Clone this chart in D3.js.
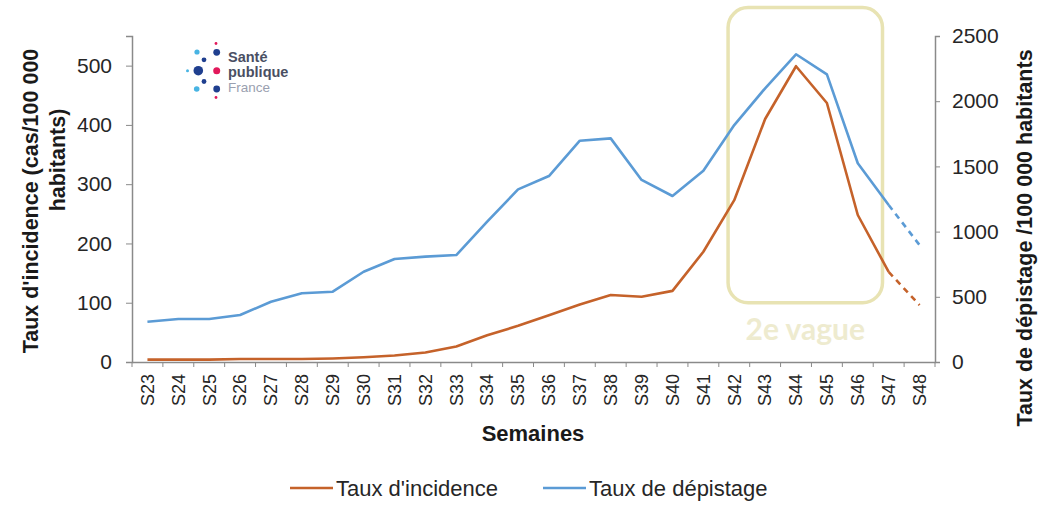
<!DOCTYPE html>
<html>
<head>
<meta charset="utf-8">
<script src="https://cdn.jsdelivr.net/npm/d3@7"></script>
<style>
  body { margin: 0; background: #fff; }
  svg text { font-family: "Liberation Sans", Arial, sans-serif; }
</style>
</head>
<body>
<div id="chart"></div>
<script>
// semaines et valeurs
var semaines = ["S23","S24","S25","S26","S27","S28","S29","S30","S31","S32","S33","S34","S35",
    "S36","S37","S38","S39","S40","S41","S42","S43","S44","S45","S46","S47","S48"];
var incidence = [4, 4, 4, 5, 5, 5, 6, 8, 11, 16, 26, 45, 61, 79, 97, 113, 110, 120, 186, 273, 410, 499, 437, 248, 152, 96];
var depistage = [309, 330, 330, 360, 462, 527, 539, 692, 790, 808, 820, 1076, 1324, 1426, 1697, 1715, 1396, 1273, 1467, 1817, 2099, 2360, 2206, 1524, 1204, 897];
var derniereSemaineConsolidee = "S47"; // après : données provisoires (pointillés)
var ticksGauche = [0, 100, 200, 300, 400, 500];
var ticksDroite = [0, 500, 1000, 1500, 2000, 2500];
var vague = { debut: "S42", fin: "S46", label: "2e vague" };

var width = 1055;
var height = 505;
var margin = {top: 36, right: 120, bottom: 143, left: 132};
var w = width - margin.left - margin.right;
var h = height - margin.top - margin.bottom;

var colIncidence = "#c5622a";
var colDepistage = "#5b9bd5";
var gris = "#8a8a8a";

var svg = d3.select("#chart").append("svg")
    .attr("width", width)
    .attr("height", height);

var g = svg.append("g")
    .attr("transform", "translate(" + margin.left + "," + margin.top + ")");

var x = d3.scaleBand()
    .domain(semaines)
    .range([0, w]);

var yG = d3.scaleLinear().domain([0, 550]).range([h, 0]);
var yD = d3.scaleLinear().domain([0, 2500]).range([h, 0]);

function cx(s) { return x(s) + x.bandwidth() / 2; }

// cadre "2e vague"
var bx0 = x(vague.debut) + x.bandwidth() * 0.3;
var bx1 = x(vague.fin) + x.bandwidth() * 1.3;
g.append("rect")
    .attr("x", bx0)
    .attr("y", yG(598))
    .attr("width", bx1 - bx0)
    .attr("height", yG(100) - yG(598))
    .attr("rx", 20)
    .attr("fill", "none")
    .attr("stroke", "#e8e3b3")
    .attr("stroke-width", 3.5);

g.append("text")
    .attr("x", (bx0 + bx1) / 2)
    .attr("y", yG(100) + 37)
    .attr("text-anchor", "middle")
    .style("font-family", "Lato, 'Open Sans', sans-serif")
    .attr("font-weight", "bold")
    .attr("font-size", "30px")
    .attr("fill", "#eeebcf")
    .text(vague.label);

// axes
var axeX = g.append("g")
    .attr("transform", "translate(0," + h + ")")
    .call(d3.axisBottom(x).tickSize(0).tickPadding(10));
axeX.select(".domain").attr("stroke", gris).attr("stroke-width", 1.5);
axeX.selectAll("text")
    .attr("transform", "rotate(-90)")
    .attr("text-anchor", "end")
    .attr("dy", "0.35em")
    .attr("x", -12)
    .attr("y", 0)
    .attr("font-size", "18px")
    .attr("fill", "#262626");
// graduations entre les semaines
axeX.selectAll(".sep")
    .data(d3.range(semaines.length + 1))
    .enter().append("line")
    .attr("class", "sep")
    .attr("x1", function(i) { return i * x.step(); })
    .attr("x2", function(i) { return i * x.step(); })
    .attr("y1", 0)
    .attr("y2", 5)
    .attr("stroke", gris);

var axeG = g.append("g")
    .call(d3.axisLeft(yG).tickValues(ticksGauche).tickSize(6).tickPadding(14).tickFormat(d3.format("d")));
var axeD = g.append("g")
    .attr("transform", "translate(" + w + ",0)")
    .call(d3.axisRight(yD).tickValues(ticksDroite).tickSize(5).tickPadding(12).tickFormat(d3.format("d")));

[axeG, axeD].forEach(function(a) {
    a.select(".domain").attr("stroke", gris).attr("stroke-width", 1.5);
    a.selectAll(".tick line").attr("stroke", gris);
    a.selectAll("text").attr("font-size", "21px").attr("fill", "#262626");
});

// courbes
var lineG = d3.line()
    .x(function(d) { return cx(d.s); })
    .y(function(d) { return yG(d.v); });
var lineD = d3.line()
    .x(function(d) { return cx(d.s); })
    .y(function(d) { return yD(d.v); });

var iCut = semaines.indexOf(derniereSemaineConsolidee);

function tracer(valeurs, ligne, couleur) {
    var pts = semaines.map(function(s, i) { return {s: s, v: valeurs[i]}; });
    g.append("path")
        .datum(pts.slice(0, iCut + 1))
        .attr("d", ligne)
        .attr("fill", "none")
        .attr("stroke", couleur)
        .attr("stroke-width", 2.6)
        .attr("stroke-linejoin", "round");
    g.append("path")
        .datum(pts.slice(iCut))
        .attr("d", ligne)
        .attr("fill", "none")
        .attr("stroke", couleur)
        .attr("stroke-width", 2.6)
        .attr("stroke-dasharray", "6,5");
}
tracer(depistage, lineD, colDepistage);
tracer(incidence, lineG, colIncidence);

// titres des axes
svg.append("text")
    .attr("transform", "translate(38,201) rotate(-90)")
    .attr("text-anchor", "middle")
    .attr("font-weight", "bold")
    .attr("font-size", "21.5px")
    .attr("fill", "#1a1a1a")
    .text("Taux d'incidence (cas/100 000");
svg.append("text")
    .attr("transform", "translate(65,160) rotate(-90)")
    .attr("text-anchor", "middle")
    .attr("font-weight", "bold")
    .attr("font-size", "21.5px")
    .attr("fill", "#1a1a1a")
    .text("habitants)");
svg.append("text")
    .attr("transform", "translate(1032,238) rotate(-90)")
    .attr("text-anchor", "middle")
    .attr("font-weight", "bold")
    .attr("font-size", "21.5px")
    .attr("fill", "#1a1a1a")
    .text("Taux de dépistage /100 000 habitants");
svg.append("text")
    .attr("x", 533)
    .attr("y", 441)
    .attr("text-anchor", "middle")
    .attr("font-weight", "bold")
    .attr("font-size", "22px")
    .attr("fill", "#1a1a1a")
    .text("Semaines");

// légende
var legende = [
    {nom: "Taux d'incidence", couleur: colIncidence, x: 290},
    {nom: "Taux de dépistage", couleur: colDepistage, x: 543}
];
var leg = svg.selectAll(".leg")
    .data(legende)
    .enter().append("g")
    .attr("class", "leg")
    .attr("transform", function(d) { return "translate(" + d.x + ",488)"; });
leg.append("line")
    .attr("x1", 0).attr("x2", 43)
    .attr("stroke", function(d) { return d.couleur; })
    .attr("stroke-width", 2.6);
leg.append("text")
    .attr("x", 46)
    .attr("y", 8)
    .attr("font-size", "22px")
    .attr("fill", "#262626")
    .text(function(d) { return d.nom; });

// logo Santé publique France
var logo = svg.append("g");
var points = [
    [197, 52, 2.6, "#48b4e3"], [216.7, 52.3, 3.4, "#1f3f8f"], [216, 43.5, 1.4, "#e2195b"],
    [204, 59.8, 2.4, "#1f3f8f"], [198.3, 70.7, 4.8, "#1f3f8f"], [187.5, 70.7, 1.5, "#48b4e3"],
    [216.7, 70.7, 3.5, "#e2195b"], [204, 81.5, 2.4, "#1f3f8f"], [196.7, 89, 2.8, "#48b4e3"],
    [216.7, 89, 3.4, "#1f3f8f"], [216, 97.5, 1.4, "#e2195b"]
];
logo.selectAll("circle")
    .data(points)
    .enter().append("circle")
    .attr("cx", function(d) { return d[0]; })
    .attr("cy", function(d) { return d[1]; })
    .attr("r", function(d) { return d[2]; })
    .attr("fill", function(d) { return d[3]; });
logo.append("text").attr("x", 228).attr("y", 62).attr("font-size", "14.5px")
    .attr("font-weight", "bold").attr("fill", "#4a4f63").text("Santé");
logo.append("text").attr("x", 228).attr("y", 76.5).attr("font-size", "14.5px")
    .attr("font-weight", "bold").attr("fill", "#4a4f63").text("publique");
logo.append("text").attr("x", 228).attr("y", 92).attr("font-size", "13.5px")
    .attr("fill", "#9aa0b0").text("France");
</script>
</body>
</html>
